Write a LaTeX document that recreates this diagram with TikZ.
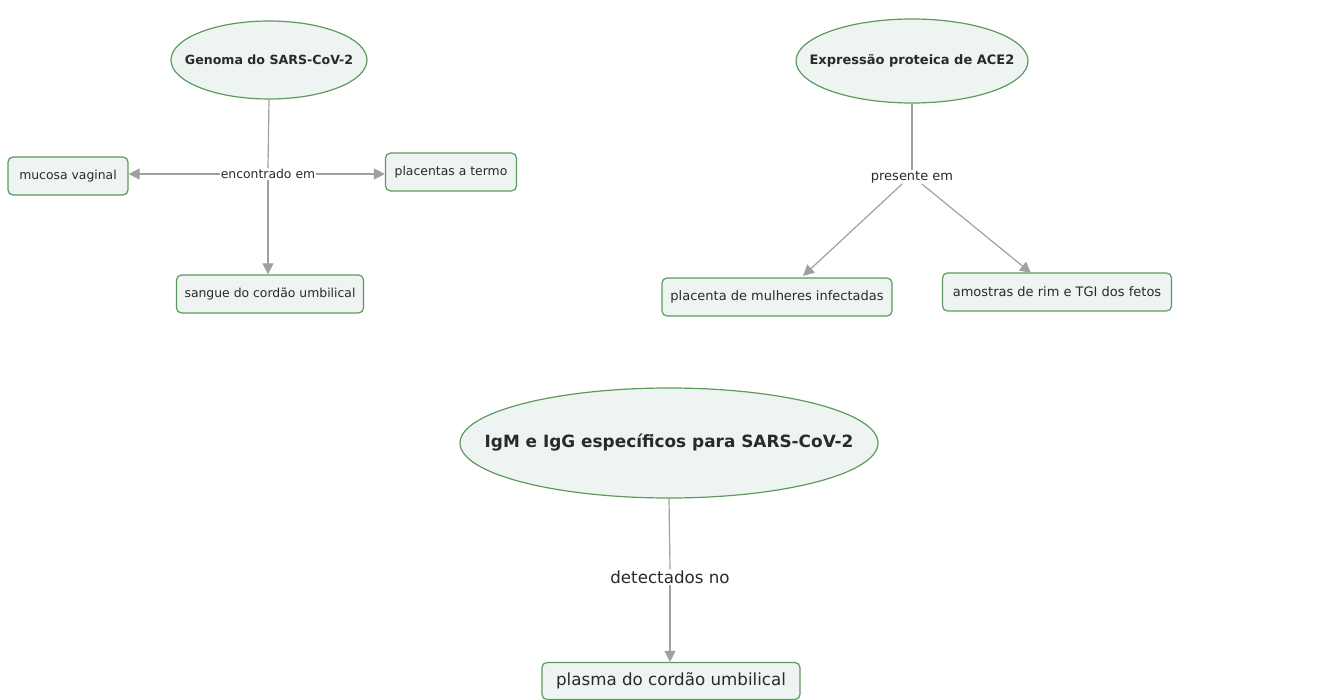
\documentclass[tikz,border=0pt]{standalone}
\usepackage{fontspec}
\setmainfont{DejaVu Sans}
\usetikzlibrary{shapes.geometric,arrows.meta}
\definecolor{boxfill}{HTML}{EEF4F2}
\definecolor{boxline}{HTML}{5E995E}
\definecolor{conn}{HTML}{A0A0A0}
\definecolor{txt}{HTML}{2A2A2A}
\newcommand{\zw}[1]{\makebox[0pt]{#1}}
\begin{document}
\begin{tikzpicture}[x=1pt,y=-1pt,
  concept/.style={ellipse,draw=boxline,fill=boxfill,line width=1.2pt,text=txt,inner sep=0pt},
  leaf/.style={rectangle,rounded corners=5pt,draw=boxline,fill=boxfill,line width=1.2pt,text=txt,minimum height=38pt,inner xsep=7pt},
  lbl/.style={fill=white,text=txt,inner sep=1pt},
  fa/.style={font=\fontsize{12.4}{15}\selectfont},
  fb/.style={font=\fontsize{13}{15}\selectfont},
  fc/.style={font=\fontsize{16.7}{19}\selectfont},
  fab/.style={font=\fontsize{12.6}{15}\selectfont\bfseries},
  fbb/.style={font=\fontsize{13}{15}\selectfont\bfseries},
  fcb/.style={font=\fontsize{16.9}{19}\selectfont\bfseries},
  link/.style={draw=conn,line width=1.2pt},
  arr/.style={link,-{Triangle[length=11pt,width=11pt]}}]
\useasboundingbox (0,0) rectangle (1322,700);
% Group 1
\node[concept,fab,minimum width=196pt,minimum height=78pt] (g1) at (269,60) {\zw{Genoma do SARS-CoV-2}};
\node[lbl,fa] (l1) at (268,174) {encontrado em};
\node[leaf,fa,minimum width=120pt] (mv) at (68,176) {mucosa vaginal};
\node[leaf,fa,minimum width=131pt] (pt) at (451,172) {placentas a termo};
\node[leaf,fa,minimum width=187pt] (sc) at (270,294) {sangue do cordão umbilical};
\draw[link] (g1.south) -- (l1.north);
\draw[arr] (l1.west) -- (l1.west -| mv.east);
\draw[arr] (l1.east) -- (l1.east -| pt.west);
\draw[arr] (l1.south) -- (l1.south |- sc.north);
% Group 2
\node[concept,fbb,minimum width=232pt,minimum height=84pt] (g2) at (912,61) {\zw{Expressão proteica de ACE2}};
\node[lbl,fb] (l2) at (912,177) {presente em};
\node[leaf,fb,minimum width=230pt] (pm) at (777,297) {placenta de mulheres infectadas};
\node[leaf,fb,minimum width=229pt] (ar) at (1057,292) {amostras de rim e TGI dos fetos};
\coordinate (pmt) at (803,276);
\coordinate (art) at (1031,273);
\draw[link] (g2.south) -- (l2.north);
\draw[arr] (l2.south) ++(-10,0) -- (pmt);
\draw[arr] (l2.south) ++(10,0) -- (art);
% Group 3
\node[concept,fcb,minimum width=418pt,minimum height=110pt] (g3) at (669,443) {\zw{IgM e IgG específicos para SARS-CoV-2}};
\node[lbl,fc] (l3) at (670,577) {detectados no};
\node[leaf,fc,minimum width=258pt,minimum height=37pt] (pc) at (671,681) {plasma do cordão umbilical};
\draw[link] (g3.south) -- (l3.north);
\draw[arr] (l3.south) -- (l3.south |- pc.north);
\end{tikzpicture}
\end{document}
